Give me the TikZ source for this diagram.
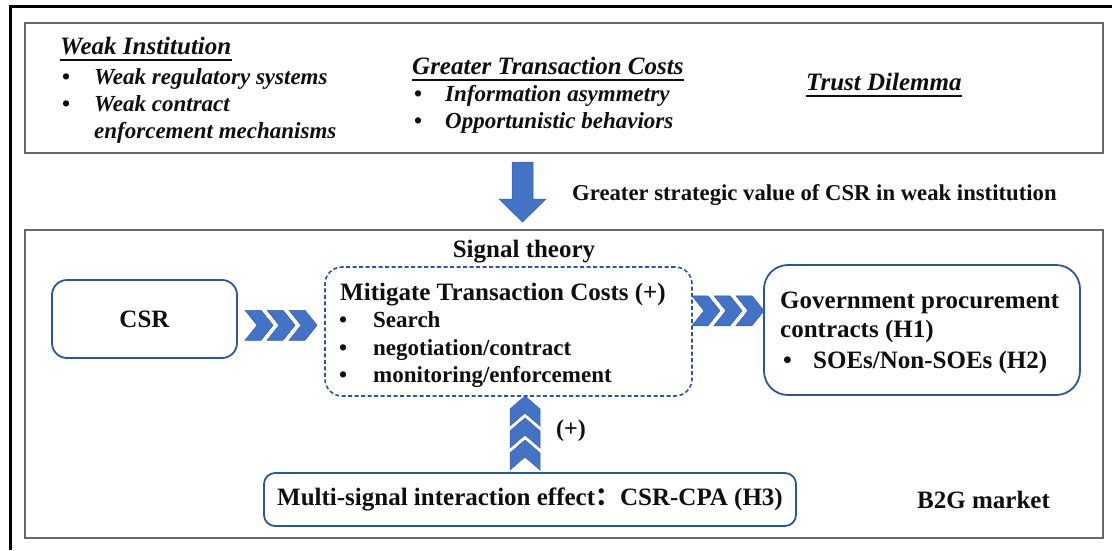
\documentclass[tikz,border=0pt]{standalone}
\usepackage{fontspec}
\setmainfont{Liberation Serif}
\newfontfamily\cjkfont{Noto Sans CJK SC}
\usetikzlibrary{calc}
\definecolor{boxblue}{RGB}{47,85,151}
\definecolor{chevblue}{RGB}{68,114,196}
\definecolor{chevedge}{RGB}{55,95,170}
\definecolor{framegray}{RGB}{105,105,105}
\definecolor{ink}{RGB}{15,15,15}
\tikzset{
  chevR/.pic={
    \foreach \s in {-36,-14,8}{
      \path[chev] (\s,-15) -- ++(16,0) -- ++(12,15) -- ++(-12,15) -- ++(-16,0) -- ++(12,-15) -- cycle;
    }
  },
  chevU/.pic={
    \foreach \s in {0,22,44}{
      \path[chev] (0,\s) -- (15,\s+13) -- (15,\s+30) -- (0,\s+17) -- (-15,\s+30) -- (-15,\s+13) -- cycle;
    }
  }
}
\begin{document}
\begin{tikzpicture}[x=1pt,y=-1pt,
  head/.style={inner sep=0pt,text=ink,font=\fontsize{25}{30}\selectfont\bfseries},
  item/.style={inner sep=0pt,text=ink,font=\fontsize{23}{27}\selectfont\bfseries},
  ihead/.style={inner sep=0pt,text=ink,font=\fontsize{25}{30}\selectfont\bfseries\itshape},
  iitem/.style={inner sep=0pt,text=ink,font=\fontsize{23}{27}\selectfont\bfseries\itshape},
  panel/.style={draw=framegray,line width=1.2pt,inner sep=0pt},
  rbox/.style={draw=boxblue,line width=1.8pt,inner sep=0pt},
  dbox/.style={draw=boxblue,line width=1.6pt,rounded corners=17pt,dash pattern=on 4pt off 2.5pt,inner sep=0pt},
  chev/.style={fill=chevblue,draw=chevedge,line width=0.5pt},
  uline/.style={draw=ink,line width=1.5pt}]

\useasboundingbox (0,0) rectangle (1112,550);
\fill[white] (0,0) rectangle (1112,550);
\draw[line width=3pt,black] (10,550) -- (10,6) -- (1112,6);

% panels
\node[panel,minimum width=1078pt,minimum height=130pt] (toppanel) at (564,88) {};
\node[panel,minimum width=1078pt,minimum height=308pt] (botpanel) at (564,384) {};

% top panel texts
\node[ihead,anchor=base west] (wi) at (60,54) {Weak Institution};
\draw[uline] ($(wi.base west)+(0,6)$) -- ($(wi.base east)+(0,6)$);
\node[iitem,anchor=base west] (wi1) at (62,84) {\makebox[32pt][l]{\upshape •}Weak regulatory systems};
\node[iitem,anchor=base west] (wi2) at (62,111) {\makebox[32pt][l]{\upshape •}Weak contract};
\node[iitem,anchor=base west] (wi3) at (94,138) {enforcement mechanisms};

\node[ihead,anchor=base west] (gtc) at (412,74) {Greater Transaction Costs};
\draw[uline] ($(gtc.base west)+(0,6)$) -- ($(gtc.base east)+(0,6)$);
\node[iitem,anchor=base west] (gtc1) at (414,101) {\makebox[31pt][l]{\upshape •}Information asymmetry};
\node[iitem,anchor=base west] (gtc2) at (414,128) {\makebox[31pt][l]{\upshape •}Opportunistic behaviors};

\node[ihead,anchor=base west] (td) at (806,90) {Trust Dilemma};
\draw[uline] ($(td.base west)+(0,6)$) -- ($(td.base east)+(0,6)$);

% down arrow
\path[chev] (512,162) -- (533,162) -- (533,199) -- (546,199) -- (522.5,222) -- (499,199) -- (512,199) -- cycle;
\node[item,anchor=base west,font=\fontsize{22.7}{27}\selectfont\bfseries] (gsv) at (572,200) {Greater strategic value of CSR in weak institution};

% bottom panel
\node[head,anchor=base] (sig) at (524,257) {Signal theory};

\node[rbox,rounded corners=15pt,minimum width=185pt,minimum height=78pt,head] (csr) at (144.5,319) {CSR};

\node[dbox,minimum width=367pt,minimum height=129pt] (mit) at (508.5,331.5) {};
\node[head,anchor=base west] (mith) at (340,300) {Mitigate Transaction Costs (+)};
\node[item,anchor=base west] (mit1) at (339,327) {\makebox[34pt][l]{•}Search};
\node[item,anchor=base west] (mit2) at (339,355) {\makebox[34pt][l]{•}negotiation/contract};
\node[item,anchor=base west] (mit3) at (339,382) {\makebox[34pt][l]{•}monitoring/enforcement};

\node[rbox,rounded corners=24pt,minimum width=316pt,minimum height=130pt] (gov) at (922,330) {};
\node[head,anchor=base west] (gov1) at (780,308) {Government procurement};
\node[head,anchor=base west] (gov2) at (780,337) {contracts (H1)};
\node[head,anchor=base west] (gov3) at (783,368) {\makebox[30pt][l]{•}SOEs/Non-SOEs (H2)};

\node[rbox,rounded corners=11pt,minimum width=532pt,minimum height=53pt,head] (multi) at (530,499.5) {Multi-signal interaction effect{\cjkfont ：}CSR-CPA (H3)};

\node[head,anchor=base west] (b2g) at (917,508) {B2G market};

% chevron connectors
\pic at ($(csr.east)!0.5!(mit.west)$) {chevR};
\pic at ($(mit.east)!0.5!(gov.west) + (0,-20)$) {chevR};
\pic at (525,396) {chevU};
\node[head,anchor=base west,font=\fontsize{24}{28}\selectfont\bfseries] (plus) at (556,436) {(+)};

\end{tikzpicture}
\end{document}
